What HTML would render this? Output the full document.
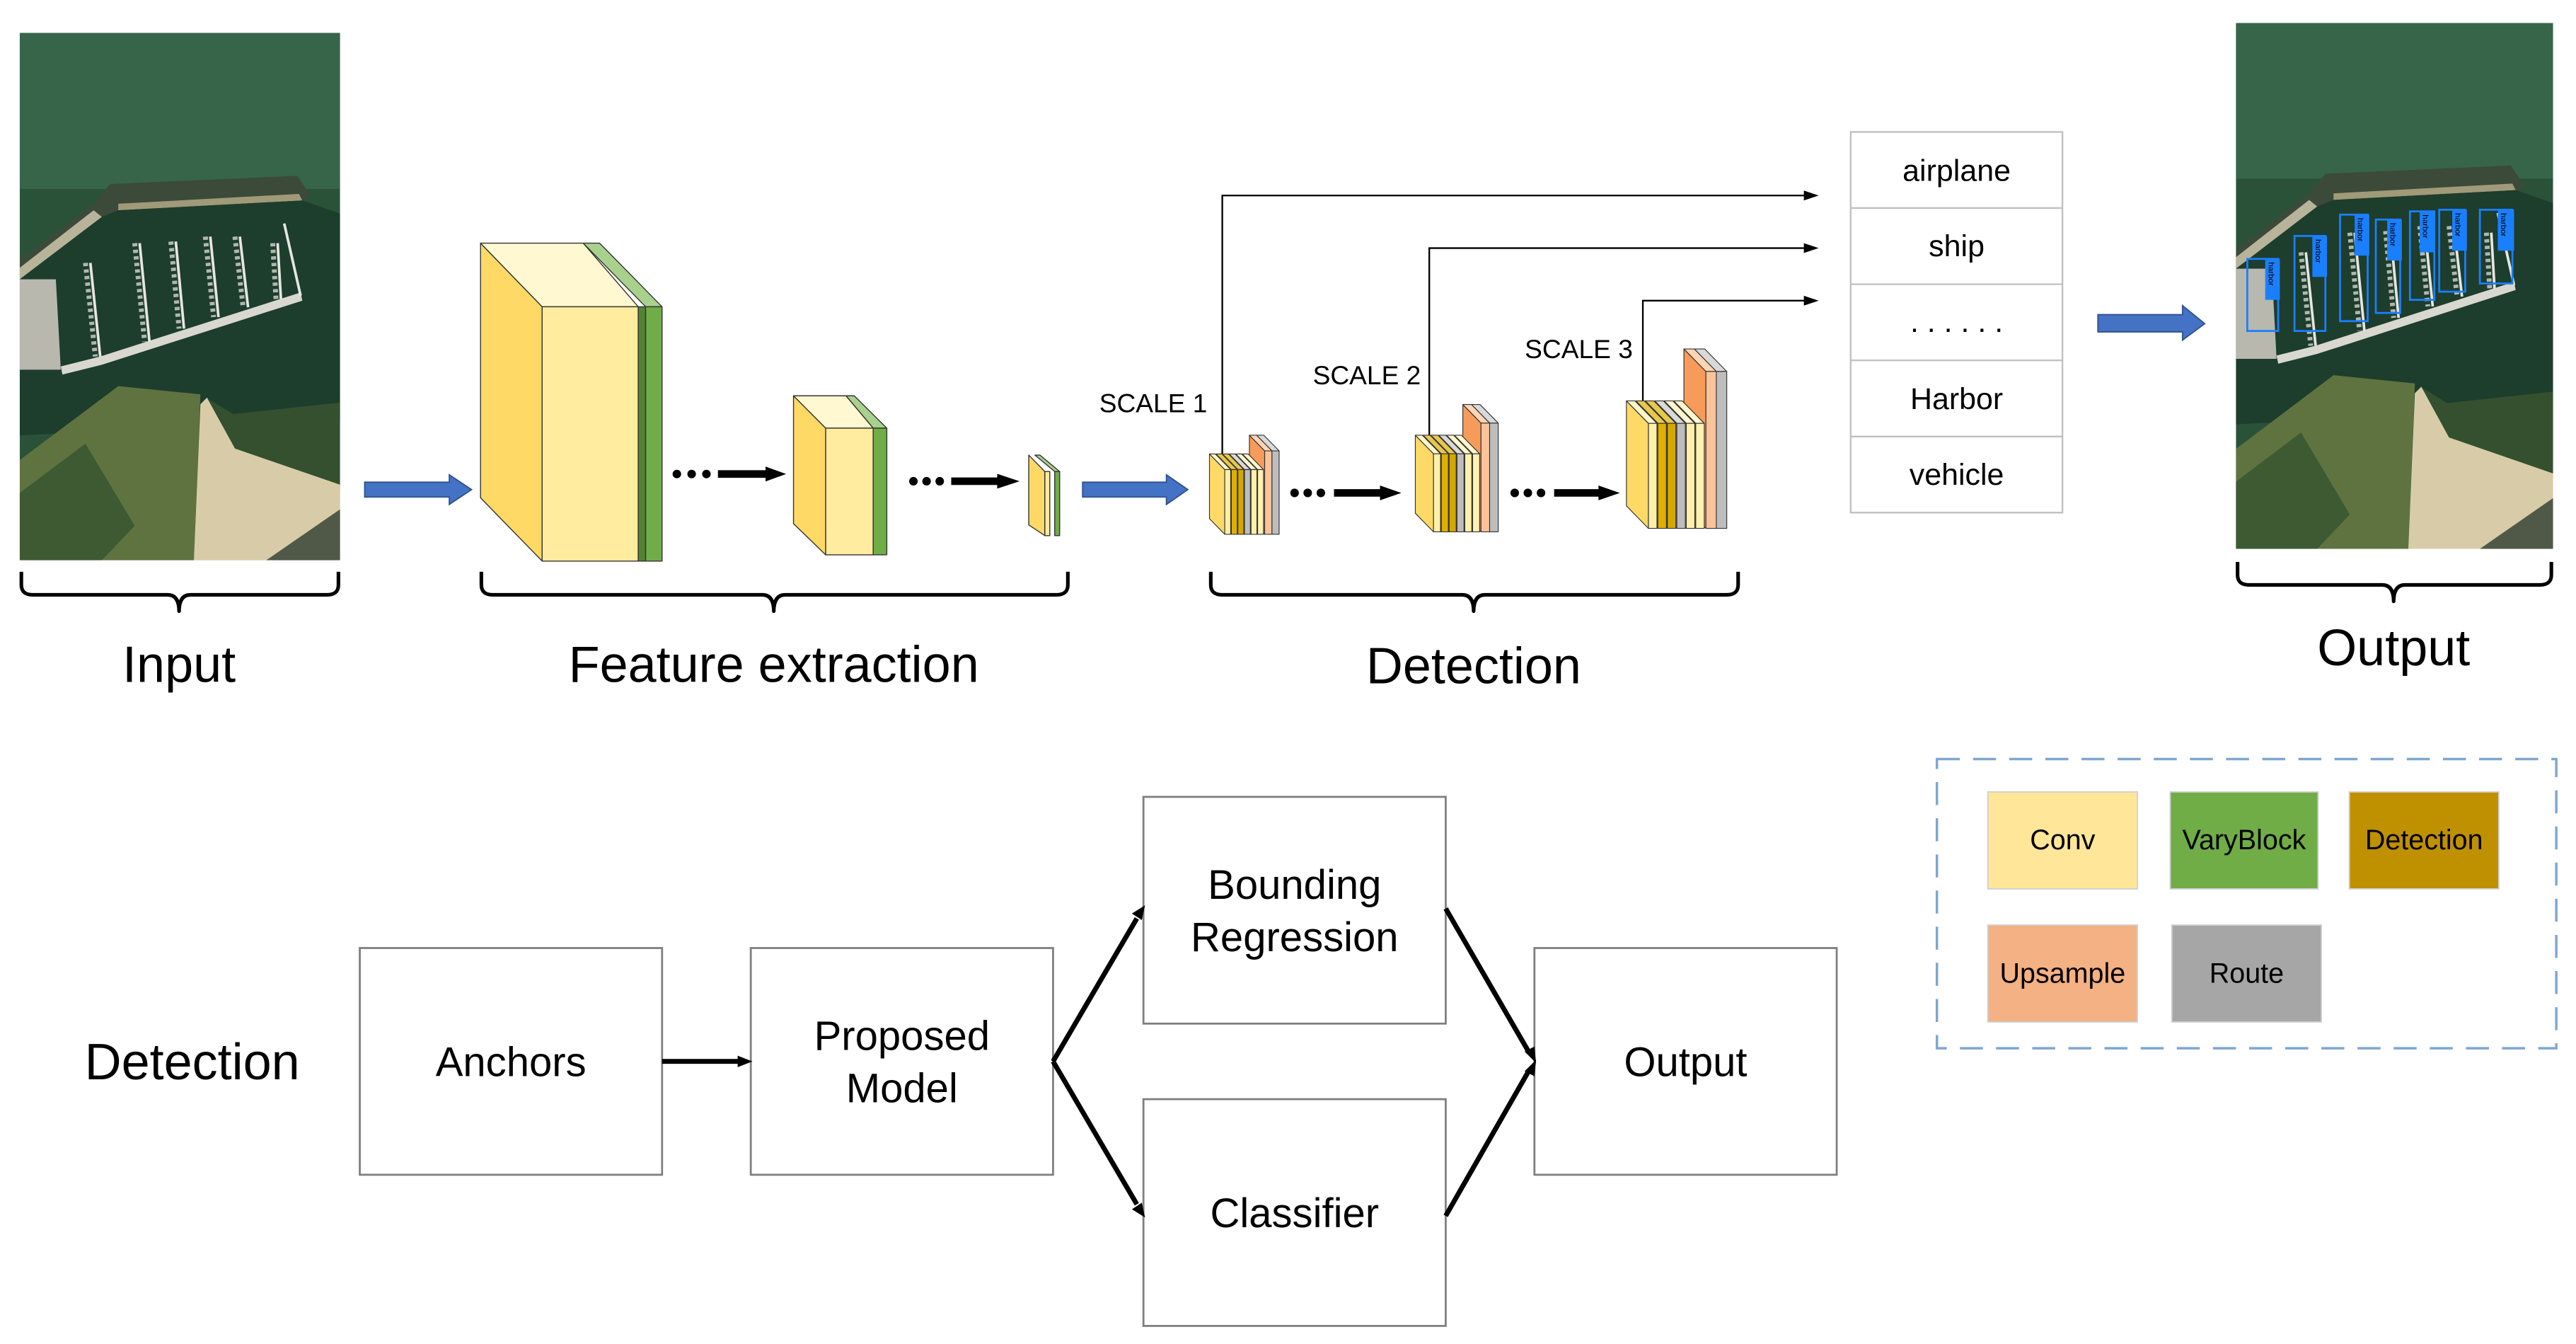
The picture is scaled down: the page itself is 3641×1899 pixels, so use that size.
<!DOCTYPE html>
<html><head><meta charset="utf-8"><style>
html,body{margin:0;padding:0;background:#fff;}
svg{display:block;}
text{font-family:"Liberation Sans",sans-serif;fill:#000;}
</style></head><body>
<svg id="s" width="3641" height="1899" viewBox="0 0 1568 818" preserveAspectRatio="none" xmlns="http://www.w3.org/2000/svg">
<defs>
<clipPath id="imgclip"><rect x="0" y="0" width="195" height="321"/></clipPath>
<g id="scene">
 <g clip-path="url(#imgclip)">
  <rect x="0" y="0" width="195" height="321" fill="#2a5238"/>
  <rect x="0" y="0" width="195" height="95" fill="#36654a"/>
  <polygon points="0,138 45,104 55,92 169,87 177,99 172,104 60,108 45,118 0,150" fill="#3c4a3a"/>
  <polygon points="0,143 45,108 50,112 0,150" fill="#b8b49a"/>
  <polygon points="60,104 170,98 172,102 60,108" fill="#a09a78"/>
  <polygon points="0,150 50,112 60,108 172,102 195,110 195,235 0,245" fill="#1d3d2d"/>
  <polygon points="0,150 22,150 25,205 0,205" fill="#b8b8ae"/>
  <polygon points="25,203 49,197 171,158 172,163 50,202 26,208" fill="#d8d8d0"/>
  <g stroke="#e6e6e0" stroke-width="1.6">
   <line x1="43" y1="140" x2="49" y2="197"/><line x1="73" y1="128" x2="79" y2="188"/>
   <line x1="95" y1="127" x2="100" y2="180"/><line x1="116" y1="124" x2="121" y2="173"/>
   <line x1="134" y1="124" x2="139" y2="167"/><line x1="157" y1="128" x2="159" y2="162"/>
   <line x1="161" y1="116" x2="171" y2="160"/>
  </g>
  <g stroke="#d6d6d0" stroke-width="3" stroke-dasharray="2 2" opacity="0.8">
   <line x1="40" y1="140" x2="46" y2="197"/><line x1="70" y1="128" x2="76" y2="188"/>
   <line x1="92" y1="127" x2="97" y2="180"/><line x1="113" y1="124" x2="118" y2="173"/>
   <line x1="131" y1="124" x2="136" y2="167"/><line x1="154" y1="128" x2="156" y2="162"/>
  </g>
  <polygon points="0,260 60,215 110,220 106,321 0,321" fill="#5f7340"/>
  <polygon points="0,280 40,250 70,300 50,321 0,321" fill="#3d5a32"/>
  <polygon points="115,223 130,232 195,225 195,278 131,253" fill="#34502e"/>
  <polygon points="106,321 110,226 114,222 131,253 195,275 195,321" fill="#d8cca8"/>
  <polygon points="150,321 195,290 195,321" fill="#505848"/>
 </g>
</g>
</defs>

<g transform="translate(12,20)"><use href="#scene"/></g>
<g transform="translate(1361,14) scale(0.99,0.997)"><use href="#scene"/>
 <g fill="none" stroke="#1a7fff" stroke-width="1.2">
  <rect x="7" y="144" width="19" height="44"/><rect x="36" y="130" width="19" height="58"/>
  <rect x="64" y="117" width="17" height="65"/><rect x="86" y="120" width="15" height="57"/>
  <rect x="107" y="115" width="15" height="54"/><rect x="125" y="114" width="16" height="50"/>
  <rect x="150" y="114" width="20" height="45"/>
 </g>
 <g fill="#1a7fff">
  <rect x="18" y="144" width="9" height="25"/><rect x="47" y="130" width="9" height="25"/>
  <rect x="73" y="117" width="9" height="25"/><rect x="93" y="120" width="9" height="25"/>
  <rect x="113" y="115" width="9" height="25"/><rect x="133" y="114" width="9" height="25"/>
  <rect x="161" y="114" width="10" height="25"/>
 </g>
 <g font-size="5" fill="#003">
  <text transform="translate(20,146) rotate(90)">harbor</text><text transform="translate(49,132) rotate(90)">harbor</text>
  <text transform="translate(75,119) rotate(90)">harbor</text><text transform="translate(95,122) rotate(90)">harbor</text>
  <text transform="translate(115,117) rotate(90)">harbor</text><text transform="translate(135,116) rotate(90)">harbor</text>
  <text transform="translate(163,116) rotate(90)">harbor</text>
 </g>
</g>

<g fill="#4472C4" stroke="#2F528F" stroke-width="0.8">
 <polygon points="222,293.5 273.5,293.5 273.5,289 287,298 273.5,307 273.5,302.5 222,302.5"/>
 <polygon points="659,293.5 710,293.5 710,289 723,298 710,307 710,302.5 659,302.5"/>
 <polygon points="1277,191.5 1328.5,191.5 1328.5,186 1342,197 1328.5,207 1328.5,202 1277,202"/>
</g>

<g stroke="#333" stroke-width="0.6" stroke-linejoin="round">
 <polygon points="292.5,148 330,186.7 330,341.5 292.5,303" fill="#FFD966"/>
 <polygon points="292.5,148 355,148 388.5,186.7 330,186.7" fill="#FFF8D0"/>
 <rect x="330" y="186.7" width="58.5" height="154.8" fill="#FFEC9E"/>
 <polygon points="355,148 365,148 403,186.7 393,186.7" fill="#A9D18E"/>
 <rect x="388.5" y="186.7" width="4.5" height="154.8" fill="#548235"/>
 <rect x="393" y="186.7" width="10" height="154.8" fill="#70AD47"/>

 <polygon points="483,240.9 502.6,260.6 502.6,337.7 483,318.7" fill="#FFD966"/>
 <polygon points="483,240.9 515,240.9 531.5,260.6 502.6,260.6" fill="#FFF8D0"/>
 <rect x="502.6" y="260.6" width="28.9" height="77.1" fill="#FFEC9E"/>
 <polygon points="515,240.9 520,240.9 539.8,260.6 531.5,260.6" fill="#A9D18E"/>
 <rect x="531.5" y="260.6" width="8.3" height="77.1" fill="#70AD47"/>

 <polygon points="626.2,277 636,287 636,326 626.2,319.5" fill="#FFD966"/>
 <rect x="636" y="287" width="3" height="39" fill="#FFEC9E"/>
 <polygon points="630,277 633,277 645,287 642,287" fill="#A9D18E"/>
 <rect x="642" y="287" width="3" height="39" fill="#70AD47"/>
</g>

<g fill="#000">
 <circle cx="412" cy="288.5" r="2.6"/><circle cx="421" cy="288.5" r="2.6"/><circle cx="430" cy="288.5" r="2.6"/>
 <polygon points="437,286.2 466,286.2 466,284 478.5,288.5 466,293 466,290.8 437,290.8"/>
 <circle cx="556" cy="292.9" r="2.6"/><circle cx="564" cy="292.9" r="2.6"/><circle cx="572" cy="292.9" r="2.6"/>
 <polygon points="579,290.6 607,290.6 607,288.4 620.6,292.9 607,297.4 607,295.2 579,295.2"/>
 <circle cx="788" cy="300" r="2.6"/><circle cx="796" cy="300" r="2.6"/><circle cx="804" cy="300" r="2.6"/>
 <polygon points="812,297.7 840,297.7 840,295.5 853,300 840,304.5 840,302.3 812,302.3"/>
 <circle cx="922" cy="300" r="2.6"/><circle cx="930" cy="300" r="2.6"/><circle cx="938" cy="300" r="2.6"/>
 <polygon points="946,297.7 973,297.7 973,295.5 986,300 973,304.5 973,302.3 946,302.3"/>
</g>

<g stroke="#000" stroke-width="1" fill="none">
 <polyline points="744,277 744,119 1100,119"/>
 <polyline points="870,265 870,151 1100,151"/>
 <polyline points="1000,244 1000,183 1100,183"/>
</g>
<g fill="#000">
 <polygon points="1107,119 1098,116 1098,122"/>
 <polygon points="1107,151 1098,148 1098,154"/>
 <polygon points="1107,183 1098,180 1098,186"/>
</g>

<g id="stacks"></g>

<g font-size="16">
 <text x="702" y="251" text-anchor="middle">SCALE 1</text>
 <text x="832" y="234" text-anchor="middle">SCALE 2</text>
 <text x="961" y="218" text-anchor="middle">SCALE 3</text>
</g>

<g stroke="#BFBFBF" stroke-width="1" fill="#fff">
 <rect x="1126.5" y="80.3" width="128.9" height="231.7"/>
 <line x1="1126.5" y1="126.6" x2="1255.4" y2="126.6"/>
 <line x1="1126.5" y1="173" x2="1255.4" y2="173"/>
 <line x1="1126.5" y1="219.3" x2="1255.4" y2="219.3"/>
 <line x1="1126.5" y1="265.7" x2="1255.4" y2="265.7"/>
</g>
<g font-size="18.5" text-anchor="middle">
 <text x="1191" y="110">airplane</text>
 <text x="1191" y="156">ship</text>
 <text x="1191" y="202">. . . . . .</text>
 <text x="1191" y="249">Harbor</text>
 <text x="1191" y="295">vehicle</text>
</g>

<g stroke="#000" stroke-width="2.2" fill="none" stroke-linejoin="round">
 <path d="M13,348 L13,356 Q13,362 20,362 L102,362 Q109,362 109,372 Q109,362 116,362 L199,362 Q206,362 206,356 L206,348"/>
 <path d="M293,348 L293,356 Q293,362 300,362 L464,362 Q471,362 471,372 Q471,362 478,362 L643,362 Q650,362 650,356 L650,348"/>
 <path d="M737,348 L737,356 Q737,362 744,362 L890,362 Q897,362 897,372 Q897,362 904,362 L1051,362 Q1058,362 1058,356 L1058,348"/>
 <path d="M1362,342 L1362,350 Q1362,356 1369,356 L1450,356 Q1457,356 1457,366 Q1457,356 1464,356 L1546,356 Q1553,356 1553,350 L1553,342"/>
</g>
<g font-size="31" text-anchor="middle">
 <text x="109" y="415">Input</text>
 <text x="471" y="415">Feature extraction</text>
 <text x="897" y="416">Detection</text>
 <text x="1457" y="405">Output</text>
</g>

<text x="117" y="657" font-size="31" text-anchor="middle">Detection</text>
<g fill="#fff" stroke="#7F7F7F" stroke-width="1.2">
 <rect x="219" y="577" width="184" height="138"/>
 <rect x="457" y="577" width="184" height="138"/>
 <rect x="696" y="485" width="184" height="138"/>
 <rect x="696" y="669" width="184" height="138"/>
 <rect x="934" y="577" width="184" height="138"/>
</g>
<g font-size="25" text-anchor="middle">
 <text x="311" y="655">Anchors</text>
 <text x="549" y="639">Proposed</text>
 <text x="549" y="671">Model</text>
 <text x="788" y="547">Bounding</text>
 <text x="788" y="579">Regression</text>
 <text x="788" y="747">Classifier</text>
 <text x="1026" y="655">Output</text>
</g>
<g stroke="#000" stroke-width="3" fill="none">
 <line x1="403" y1="646" x2="452" y2="646"/>
 <line x1="641" y1="646" x2="692" y2="559"/>
 <line x1="641" y1="646" x2="692" y2="733"/>
 <line x1="880" y1="553" x2="931" y2="641"/>
 <line x1="880" y1="740" x2="931" y2="651"/>
</g>
<g fill="#000">
 <polygon points="458,646 449,642.5 449,649.5"/>
 <polygon points="697,551 689,556 695,560"/>
 <polygon points="697,741 695,732 689,736"/>
 <polygon points="935,647 928,640 934,637"/>
 <polygon points="935,645 934,655 928,652"/>
</g>

<rect x="1179" y="462" width="377" height="176" fill="none" stroke="#7FA7D0" stroke-width="1.5" stroke-dasharray="14 8"/>
<g stroke="#D0D0D0" stroke-width="0.8">
 <rect x="1210" y="482" width="91" height="59" fill="#FFE699"/>
 <rect x="1321" y="482" width="90" height="59" fill="#70AD47"/>
 <rect x="1430" y="482" width="91" height="59" fill="#BF9000"/>
 <rect x="1210" y="563" width="91" height="59" fill="#F4B183"/>
 <rect x="1322" y="563" width="91" height="59" fill="#A6A6A6"/>
</g>
<g font-size="17" text-anchor="middle">
 <text x="1255.5" y="517">Conv</text>
 <text x="1366" y="517">VaryBlock</text>
 <text x="1475.5" y="517">Detection</text>
 <text x="1255.5" y="598">Upsample</text>
 <text x="1367.5" y="598">Route</text>
</g>
</svg>
<script>
(function(){
var ns="http://www.w3.org/2000/svg",g=document.getElementById("stacks");
function poly(pts,fill){var p=document.createElementNS(ns,"polygon");p.setAttribute("points",pts.map(function(a){return a[0].toFixed(2)+","+a[1].toFixed(2)}).join(" "));p.setAttribute("fill",fill);p.setAttribute("stroke","#333");p.setAttribute("stroke-width","0.5");p.setAttribute("stroke-linejoin","round");g.appendChild(p);}
function slab(fx,w,B,h,dx,dy,face,front,top){
 var T=B-h;
 poly([[fx-dx,T],[fx,T+dy],[fx,B],[fx-dx,B-dy]],face);
 poly([[fx-dx,T],[fx-dx+w,T],[fx+w,T+dy],[fx,T+dy]],top);
 poly([[fx,T+dy],[fx+w,T+dy],[fx+w,B],[fx,B]],front);
}
function stack(L,B,sx,hs,ht){
 var dx=9.3*sx,dy=9.5*sx;
 slab(L+38*sx,4.4*sx,B,ht,dx,dy,"#A6A6A6","#BDBDBD","#D9D9D9");
 slab(L+33.6*sx,4.4*sx,B,ht,dx,dy,"#F79B5A","#FBC39A","#FCD5B5");
 var sh=[[29.3,"#FFE680","#FFF2B0","#FFF6CC"],[25.3,"#FFD966","#FFF0A8","#FFF6CC"],[21.3,"#A6A6A6","#BDBDBD","#D9D9D9"],[17.3,"#BF9000","#D4A800","#E8C84A"],[13.3,"#C9A000","#E0B000","#E8C84A"],[9.3,"#FFD966","#FFF0A8","#FFF6CC"]];
 sh.forEach(function(s){slab(L+s[0]*sx,3.6*sx,B,hs,dx,dy,s[1],s[2],s[3]);});
}
stack(736.2,325.2,1,48.9,60.3);
stack(861.5,323.7,1.19,58.8,77.5);
stack(990,321.6,1.44,77.6,109.2);
})();
</script>
</body></html>
